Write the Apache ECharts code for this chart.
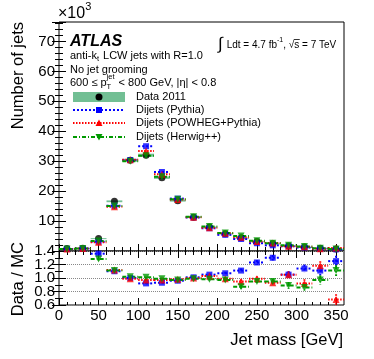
<!DOCTYPE html>
<html>
<head>
<meta charset="utf-8">
<script src="https://cdn.jsdelivr.net/npm/echarts@6/dist/echarts.min.js"></script>
<style>
  html, body { margin: 0; padding: 0; background: #fff; }
  #chart { width: 374px; height: 359px; }
</style>
</head>
<body>
<div id="chart"></div>
<script>
// bins of 20 GeV, values in thousands of jets
const binCenters = [10, 30, 50, 70, 90, 110, 130, 150, 170, 190, 210, 230, 250, 270, 290, 310, 330, 350];
const binHalf = 10;
const dataJets   = [0.8, 0.9, 4.2, 16.6, 30.3, 32.0, 24.5, 16.8, 11.3, 8.0, 5.8, 4.4, 3.2, 2.5, 1.7, 1.3, 0.9, 0.7];
const dataSyst   = [0.05, 0.05, 0.1, 0.3, 0.5, 0.5, 0.4, 0.3, 0.2, 0.15, 0.1, 0.08, 0.06, 0.05, 0.04, 0.03, 0.03, 0.02];
const pythiaJets = [0.7, 0.8, 3.1, 15.1, 30.4, 35.0, 26.4, 17.5, 11.2, 7.6, 5.4, 4.0, 2.6, 1.9, 1.6, 1.15, 0.8, 0.55];
const powhegJets = [0.7, 0.8, 2.9, 14.8, 30.5, 33.4, 25.6, 17.2, 11.3, 7.8, 5.9, 4.6, 3.2, 2.7, 1.6, 1.4, 0.75, 1.0];
const herwigJets = [0.7, 0.8, 3.3, 15.0, 30.0, 31.8, 24.8, 17.3, 11.4, 8.2, 6.0, 5.0, 3.4, 2.6, 1.9, 1.5, 0.95, 0.63];

// Data / MC
const ratioPythia = [null, null, 1.36, 1.10, 1.00, 0.92, 0.93, 0.96, 1.01, 1.05, 1.07, 1.11, 1.23, 1.30, 1.05, 1.14, 1.11, 1.25];
const ratioPowheg = [null, null, null, 1.12, 0.99, 0.97, 0.97, 0.98, 1.00, 1.03, 0.99, 0.95, 0.99, 0.93, 1.05, 0.92, 1.18, 0.68];
const ratioHerwig = [null, null, 1.28, 1.11, 1.02, 1.01, 0.99, 0.97, 0.99, 0.98, 0.97, 0.87, 0.95, 0.95, 0.89, 0.86, 0.97, 1.11];
const ratioErr    = [0, 0, 0.02, 0.01, 0.01, 0.01, 0.01, 0.01, 0.01, 0.015, 0.02, 0.03, 0.035, 0.04, 0.05, 0.06, 0.07, 0.08];

const xTicks = [0, 50, 100, 150, 200, 250, 300, 350];
const yTicksTop = [10, 20, 30, 40, 50, 60, 70];
// ratio labels overlap in the original, so they go on two stacked axes
const yTicksRatioA = [0.6, 1.0, 1.4];
const yTicksRatioB = [0.8, 1.2];

const FONT = "'Liberation Sans', Arial, sans-serif";
const BLUE = "#0000ff";
const RED = "#ff0000";
const GREEN = "#009900";
const BAND = "#72bf94";

const chart = echarts.init(document.getElementById("chart"));

const ctx = document.createElement("canvas").getContext("2d");
const textWidth = (s, size, font = "") => {
  ctx.font = `${font} ${size}px ${FONT}`;
  return ctx.measureText(s).width;
};

const rows = (ys, errs) =>
  binCenters
    .map((x, i) => [x, ys[i], errs ? errs[i] : 0])
    .filter((d) => d[1] != null);

// horizontal bin-width bars (+ vertical errors) in the line style of each sample
const errorBars = (color, dash) => (params, api) => {
  const x = api.value(0);
  const y = api.value(1);
  const e = api.value(2);
  const l = api.coord([x - binHalf, y]);
  const r = api.coord([x + binHalf, y]);
  const style = { stroke: color, lineWidth: 2, lineDash: dash };
  const children = [
    { type: "line", shape: { x1: l[0], y1: l[1], x2: r[0], y2: r[1] }, style },
  ];
  if (e) {
    const t = api.coord([x, y + e]);
    const b = api.coord([x, y - e]);
    children.push({ type: "line", shape: { x1: t[0], y1: t[1], x2: b[0], y2: b[1] }, style });
  }
  return { type: "group", children };
};

const bandItem = (params, api) => {
  const x = api.value(0);
  const y = api.value(1);
  const e = api.value(2);
  const tl = api.coord([x - binHalf, y + e]);
  const br = api.coord([x + binHalf, y - e]);
  return {
    type: "rect",
    shape: { x: tl[0], y: tl[1], width: br[0] - tl[0], height: Math.max(br[1] - tl[1], 1) },
    style: { fill: BAND },
  };
};

const samples = [
  { name: "Dijets (Pythia)", color: BLUE, dash: [2, 2], symbol: "rect", size: 6, rotate: 0, top: pythiaJets, ratio: ratioPythia },
  { name: "Dijets (POWHEG+Pythia)", color: RED, dash: [1.5, 1.5], symbol: "triangle", size: 7, rotate: 0, top: powhegJets, ratio: ratioPowheg },
  { name: "Dijets (Herwig++)", color: GREEN, dash: [4, 2, 1, 2], symbol: "triangle", size: 7, rotate: 180, top: herwigJets, ratio: ratioHerwig },
];

const series = [
  { type: "custom", xAxisIndex: 0, yAxisIndex: 0, clip: true, renderItem: bandItem, data: rows(dataJets, dataSyst), silent: true },
  { type: "scatter", xAxisIndex: 0, yAxisIndex: 0, clip: true, symbol: "circle", symbolSize: 7,
    itemStyle: { color: "#000" }, data: rows(dataJets), silent: true },
];
samples.forEach((s) => {
  series.push(
    { type: "custom", xAxisIndex: 0, yAxisIndex: 0, clip: true, silent: true,
      renderItem: errorBars(s.color, s.dash), data: rows(s.top) },
    { type: "scatter", xAxisIndex: 0, yAxisIndex: 0, clip: true, silent: true,
      symbol: s.symbol, symbolSize: s.size, symbolRotate: s.rotate, itemStyle: { color: s.color }, data: rows(s.top) },
    { type: "custom", xAxisIndex: 2, yAxisIndex: 2, clip: true, silent: true,
      renderItem: errorBars(s.color, s.dash), data: rows(s.ratio, ratioErr) },
    { type: "scatter", xAxisIndex: 2, yAxisIndex: 2, clip: true, silent: true,
      symbol: s.symbol, symbolSize: s.size, symbolRotate: s.rotate, itemStyle: { color: s.color }, data: rows(s.ratio) }
  );
});

const tickLine = { color: "#000", width: 1 };
const label = { color: "#000", fontSize: 15, fontFamily: FONT, hideOverlap: false, showMinLabel: true, showMaxLabel: true };

const xAxis = (grid, position, showLabel, major, minor) => ({
  type: "value", gridIndex: grid, position, min: 0, max: 360, interval: 50,
  axisLine: { show: false },
  axisTick: { show: true, inside: true, length: major, lineStyle: tickLine,
    customValues: xTicks },
  minorTick: { show: true, splitNumber: 5, length: minor, lineStyle: tickLine },
  splitLine: { show: false },
  axisLabel: showLabel
    ? { ...label, margin: 3, customValues: xTicks }
    : { show: false },
});

const yAxis = (grid, position, opts) => ({
  type: "value", gridIndex: grid, position,
  axisLine: { show: false },
  axisTick: { show: true, inside: true, length: 7, lineStyle: tickLine },
  splitLine: { show: false },
  ...opts,
});

const gridBase = { left: 59, right: 30, show: true, borderColor: "#000", borderWidth: 1, containLabel: false, outerBoundsMode: "none" };

// text helpers
const T = (x, y, text, size, extra = {}) => ({
  type: "text", x, y, silent: true,
  style: { text, font: `${extra.font || ""} ${size}px ${FONT}`, fill: "#000",
    align: extra.align || "left", verticalAlign: extra.va || "middle" },
  rotation: extra.rotation || 0,
});

const graphics = [];
// x10^3
graphics.push(T(58, 14, "×10", 16));
graphics.push(T(58 + textWidth("×10", 16), 7, "3", 11));

// ATLAS label block
graphics.push(T(70, 42, "ATLAS", 16, { font: "italic bold" }));
let x = 70;
graphics.push(T(x, 56, "anti-k", 11)); x += textWidth("anti-k", 11);
graphics.push(T(x, 59, "t", 7.5)); x += textWidth("t", 7.5) + 1;
graphics.push(T(x, 56, " LCW jets with R=1.0", 11));
graphics.push(T(70, 69.5, "No jet grooming", 11));
x = 70;
graphics.push(T(x, 83, "600 ≤ p", 11)); x += textWidth("600 ≤ p", 11);
graphics.push(T(x, 77, "jet", 7.5));
graphics.push(T(x, 87, "T", 7.5));
x += textWidth("jet", 7.5) + 1;
graphics.push(T(x, 83, " < 800 GeV, |η| < 0.8", 11));

// luminosity
x = 218;
graphics.push(T(x, 44, "∫", 17)); x += textWidth("∫", 17) + 4;
graphics.push(T(x, 45, "Ldt = 4.7 fb", 10)); x += textWidth("Ldt = 4.7 fb", 10);
graphics.push(T(x, 40, "-1", 7)); x += textWidth("-1", 7);
graphics.push(T(x, 45, ", ", 10)); x += textWidth(", ", 10);
graphics.push(T(x, 45, "√s", 10));
graphics.push({ type: "line", silent: true,
  shape: { x1: x + textWidth("√", 10) - 0.5, y1: 39.5, x2: x + textWidth("√s", 10) + 0.5, y2: 39.5 },
  style: { stroke: "#000", lineWidth: 0.8 } });
x += textWidth("√s", 10);
graphics.push(T(x, 45, " = 7 TeV", 10));

// legend
const legX1 = 73, legX2 = 125, legXm = 99, legText = 136;
const legRows = [97, 110, 123, 137];
graphics.push({ type: "rect", silent: true, shape: { x: legX1, y: legRows[0] - 5, width: legX2 - legX1, height: 10 }, style: { fill: BAND } });
graphics.push({ type: "circle", silent: true, shape: { cx: legXm, cy: legRows[0], r: 3.5 }, style: { fill: "#000" } });
graphics.push(T(legText, legRows[0], "Data 2011", 11));
samples.forEach((s, i) => {
  const y = legRows[i + 1];
  graphics.push({ type: "line", silent: true, shape: { x1: legX1, y1: y, x2: legX2, y2: y },
    style: { stroke: s.color, lineWidth: 2, lineDash: s.dash } });
  let marker;
  if (s.symbol === "rect") {
    marker = { type: "rect", shape: { x: legXm - 3, y: y - 3, width: 6, height: 6 } };
  } else if (s.rotate) {
    marker = { type: "polygon", shape: { points: [[legXm - 3.5, y - 3], [legXm + 3.5, y - 3], [legXm, y + 3.5]] } };
  } else {
    marker = { type: "polygon", shape: { points: [[legXm - 3.5, y + 3], [legXm + 3.5, y + 3], [legXm, y - 3.5]] } };
  }
  marker.silent = true;
  marker.style = { fill: s.color };
  graphics.push(marker);
  graphics.push(T(legText, y, s.name, 11));
});

// axis titles
graphics.push(T(18, 22, "Number of jets", 16.5, { align: "right", rotation: Math.PI / 2 }));
graphics.push(T(18, 242, "Data / MC", 16.5, { align: "right", rotation: Math.PI / 2 }));
graphics.push(T(343, 340, "Jet mass [GeV]", 16.5, { align: "right" }));

const ratioY = { min: 0.6, max: 1.4, interval: 0.2 };

const option = {
  animation: false,
  backgroundColor: "#fff",
  grid: [
    { ...gridBase, top: 22, height: 229 },
    { ...gridBase, top: 251, height: 54 },
  ],
  xAxis: [
    xAxis(0, "bottom", false, 7, 4),
    xAxis(0, "top", false, 6, 3),
    xAxis(1, "bottom", true, 7, 3),
    xAxis(1, "top", false, 7, 4),
  ],
  yAxis: [
    yAxis(0, "left", { min: 0, max: 76.5, interval: 10,
      minorTick: { show: true, splitNumber: 5, length: 4, lineStyle: tickLine },
      axisLabel: { ...label, margin: 4, customValues: yTicksTop } }),
    yAxis(0, "right", { min: 0, max: 76.5, interval: 10,
      minorTick: { show: true, splitNumber: 5, length: 4, lineStyle: tickLine },
      axisLabel: { show: false } }),
    yAxis(1, "left", { ...ratioY,
      minorTick: { show: true, splitNumber: 2, length: 4, lineStyle: tickLine },
      splitLine: { show: true, lineStyle: { color: "#888", type: "dotted", width: 1 } },
      axisLabel: { ...label, margin: 4, customValues: yTicksRatioA, formatter: (v) => v.toFixed(1) } }),
    yAxis(1, "right", { ...ratioY,
      minorTick: { show: true, splitNumber: 2, length: 4, lineStyle: tickLine },
      axisLabel: { show: false } }),
    yAxis(1, "left", { ...ratioY,
      axisTick: { show: false },
      axisLabel: { ...label, margin: 4, customValues: yTicksRatioB, formatter: (v) => v.toFixed(1) } }),
  ],
  graphic: { elements: graphics },
  series,
};

chart.setOption(option);
</script>
</body>
</html>
